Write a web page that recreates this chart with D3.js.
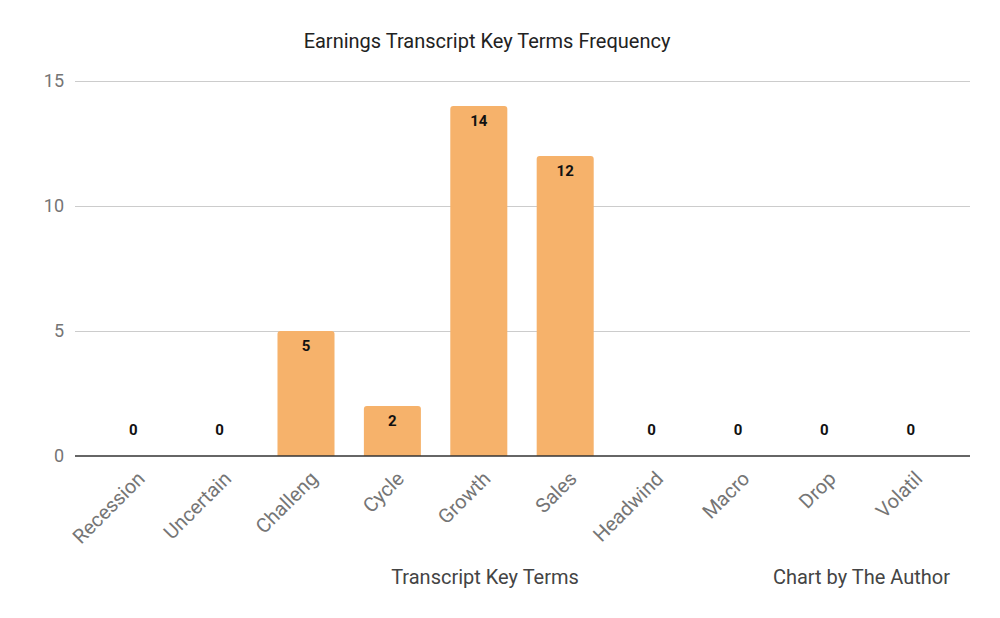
<!DOCTYPE html>
<html>
<head>
<meta charset="utf-8">
<script src="https://cdn.jsdelivr.net/npm/d3@7"></script>
<style>
	body { margin: 0; background: #fff; }
	svg { display: block; font-family: Roboto, "Noto Sans", sans-serif; }
</style>
</head>
<body>
<svg id="chart" width="1000" height="618"></svg>
<script>
const terms = ["Recession", "Uncertain", "Challeng", "Cycle", "Growth", "Sales", "Headwind", "Macro", "Drop", "Volatil"];
const counts = [0, 0, 5, 2, 14, 12, 0, 0, 0, 0];
const yTicks = [0, 5, 10, 15];

const title = "Earnings Transcript Key Terms Frequency";
const xTitle = "Transcript Key Terms";
const credit = "Chart by The Author";

const width = 1000,
	height = 618,
	margin = { top: 81, right: 30, bottom: 162, left: 75 };

const barColor = "#f6b26b";

const svg = d3.select("#chart");

const x = d3
	.scaleBand()
	.domain(terms)
	.range([90, 954])
	.paddingInner(0.34)
	.paddingOuter(0.17);

const y = d3
	.scaleLinear()
	.domain([0, 15])
	.range([height - margin.bottom, margin.top]);

// gridlines
svg.append("g")
	.selectAll("line")
	.data(yTicks.filter((d) => d > 0))
	.join("line")
	.attr("x1", margin.left)
	.attr("x2", width - margin.right)
	.attr("y1", (d) => y(d) + 0.5)
	.attr("y2", (d) => y(d) + 0.5)
	.attr("stroke", "#cccccc")
	.attr("stroke-width", 1);

// y tick labels
svg.append("g")
	.selectAll("text")
	.data(yTicks)
	.join("text")
	.attr("x", 64)
	.attr("y", (d) => y(d))
	.attr("dy", "0.35em")
	.attr("text-anchor", "end")
	.attr("fill", "#757575")
	.attr("font-size", 18)
	.text((d) => d);

// bars with rounded top corners
const r = 3;
svg.append("g")
	.selectAll("path")
	.data(terms.map((t, i) => ({ term: t, value: counts[i] })).filter((d) => d.value > 0))
	.join("path")
	.attr("fill", barColor)
	.attr("d", (d) => {
		const x0 = x(d.term), x1 = x0 + x.bandwidth();
		const y0 = y(d.value), yb = y(0);
		return `M${x0},${yb}V${y0 + r}Q${x0},${y0} ${x0 + r},${y0}H${x1 - r}Q${x1},${y0} ${x1},${y0 + r}V${yb}Z`;
	});

// baseline
svg.append("line")
	.attr("x1", margin.left)
	.attr("x2", width - margin.right)
	.attr("y1", y(0))
	.attr("y2", y(0))
	.attr("stroke", "#333333")
	.attr("stroke-width", 1.5);

// value labels
svg.append("g")
	.selectAll("text")
	.data(terms.map((t, i) => ({ term: t, value: counts[i] })))
	.join("text")
	.attr("x", (d) => x(d.term) + x.bandwidth() / 2)
	.attr("y", (d) => (d.value > 0 ? y(d.value) + 15 : y(0) - 26))
	.attr("dy", "0.35em")
	.attr("text-anchor", "middle")
	.attr("font-size", 15)
	.attr("font-weight", "bold")
	.attr("fill", "#111111")
	.text((d) => d.value);

// x category labels, rotated
svg.append("g")
	.selectAll("text")
	.data(terms)
	.join("text")
	.attr("transform", (d) => `translate(${x(d) + x.bandwidth() / 2 + 3},${y(0) + 14}) rotate(-45)`)
	.attr("text-anchor", "end")
	.attr("dy", "0.7em")
	.attr("fill", "#757575")
	.attr("font-size", 20)
	.text((d) => d);

// titles
svg.append("text")
	.attr("x", 487)
	.attr("y", 48)
	.attr("text-anchor", "middle")
	.attr("fill", "#222222")
	.attr("font-size", 20)
	.text(title);

svg.append("text")
	.attr("x", 485)
	.attr("y", 584)
	.attr("text-anchor", "middle")
	.attr("fill", "#444444")
	.attr("font-size", 20)
	.text(xTitle);

svg.append("text")
	.attr("x", 950)
	.attr("y", 584)
	.attr("text-anchor", "end")
	.attr("fill", "#444444")
	.attr("font-size", 20)
	.text(credit);
</script>
</body>
</html>
